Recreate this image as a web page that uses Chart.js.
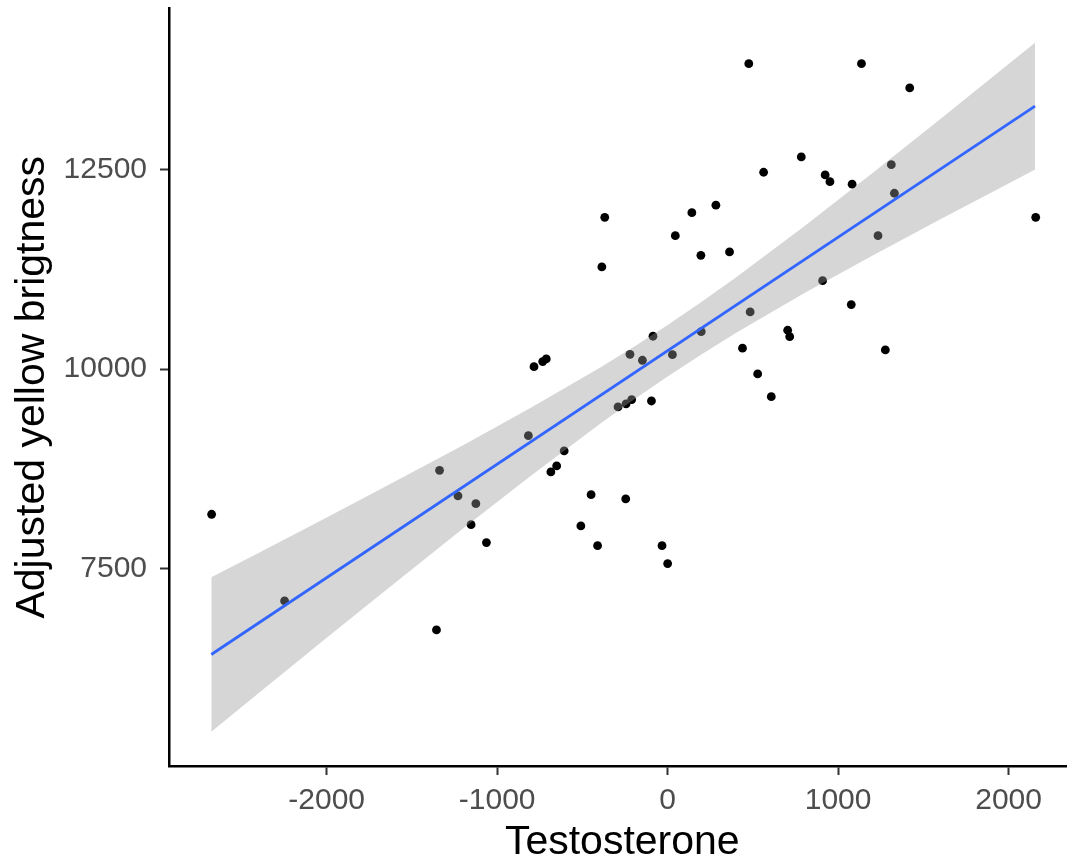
<!DOCTYPE html>
<html><head><meta charset="utf-8">
<script src="https://cdn.jsdelivr.net/npm/chart.js@4/dist/chart.umd.min.js"></script>
<style>
html,body{margin:0;padding:0;overflow:hidden;background:#fff;width:1067px;height:864px}
#wrap{width:1080px;height:864px;position:relative}
canvas{display:block}
</style></head><body>
<div id="wrap"><canvas id="c" width="1080" height="864"></canvas></div>
<script>
// Data
const testosterone = [476, 563, 283, 142, -369, 45, 195, 363, 1137, 1420, 784, 924, 952, 1082, 1312, 1330, 1234, 2159, -2675, -1338, -1230, -386, -784, -733, -712, -86, -221, -148, 28, 197, 484, 439, 528, -291, -244, -211, -95, -817, -607, -651, -685, -449, -246, -1125, 909, 1077, 704, 716, 1277, 608, -2247, -1356, -1153, -1063, -509, -411, -33, 0];
const brightness = [13825, 12465, 12052, 11959, 11901, 11671, 11425, 11467, 13825, 13521, 12657, 12431, 12347, 12315, 12560, 12202, 11671, 11901, 8181, 8732, 8411, 11279, 10030, 10093, 10127, 10411, 10185, 10110, 10180, 10468, 10715, 10261, 9939, 9525, 9563, 9617, 9600, 9166, 8974, 8786, 8711, 8427, 8373, 8314, 11107, 10807, 10486, 10406, 10239, 9654, 7095, 6732, 8051, 7826, 8035, 7788, 7788, 7563];

// Fitted line and confidence band
const fitX = [-2677, 2155];
const fitY = [6425, 13293];
const bandX = [-2677, -2400, -2000, -1600, -1200, -800, -400, -200, 0, 200, 400, 800, 1200, 1600, 2000, 2155];
const bandUpper = [7392, 7697, 8141, 8590, 9046, 9517, 10013, 10276, 10552, 10843, 11147, 11786, 12451, 13132, 13820, 14088];
const bandLower = [5458, 5939, 6633, 7321, 8002, 8668, 9309, 9615, 9907, 10185, 10450, 10948, 11419, 11876, 12325, 12498];

const xTicks = [-2000, -1000, 0, 1000, 2000];
const yTicks = [7500, 10000, 12500];
const xLimits = [-2925, 2393];
const yLimits = [5028, 14516];

const FONT = "'Liberation Sans', Arial, sans-serif";

const pts = testosterone.map((x, i) => ({x: x, y: brightness[i]}));
const fit = fitX.map((x, i) => ({x: x, y: fitY[i]}));
const up = bandX.map((x, i) => ({x: x, y: bandUpper[i]}));
const lo = bandX.map((x, i) => ({x: x, y: bandLower[i]}));

new Chart(document.getElementById('c'), {
  type: 'scatter',
  data: {
    datasets: [
      {type: 'line', data: fit, borderColor: '#3366FF', borderWidth: 2.8, pointRadius: 0, fill: false, tension: 0},
      {type: 'line', data: up, borderColor: 'rgba(0,0,0,0)', borderWidth: 0, pointRadius: 0, fill: '+1', backgroundColor: 'rgba(153,153,153,0.4)', tension: 0},
      {type: 'line', data: lo, borderColor: 'rgba(0,0,0,0)', borderWidth: 0, pointRadius: 0, fill: false, tension: 0},
      {type: 'scatter', data: pts, pointRadius: 4.4, pointHoverRadius: 4.4, backgroundColor: '#000000', borderWidth: 0}
    ]
  },
  options: {
    responsive: false,
    animation: false,
    devicePixelRatio: 1,
    layout: {padding: {top: 8.5, right: 2, bottom: 0, left: 0}},
    plugins: {legend: {display: false}, tooltip: {enabled: false}},
    scales: {
      x: {
        type: 'linear', min: xLimits[0], max: xLimits[1], bounds: 'data',
        afterBuildTicks: s => { s.ticks = xTicks.map(v => ({value: v})); },
        afterFit: s => { s.height = 98; s.paddingLeft = 0; s.paddingRight = 0; s.paddingTop = 0; s.paddingBottom = 0; },
        grid: {drawOnChartArea: false, drawTicks: true, tickLength: 9, tickWidth: 2, tickColor: '#333333'},
        border: {display: true, color: '#000000', width: 2.5},
        ticks: {color: '#4D4D4D', font: {family: FONT, size: 30}, padding: 8, maxRotation: 0, autoSkip: false, callback: v => String(v)},
        title: {display: true, text: 'Testosterone', color: '#000000', font: {family: FONT, size: 41, lineHeight: 1}, padding: {top: 0, bottom: 1}}
      },
      y: {
        type: 'linear', min: yLimits[0], max: yLimits[1], bounds: 'data',
        afterBuildTicks: s => { s.ticks = yTicks.map(v => ({value: v})); },
        afterFit: s => { s.width = 169; s.paddingLeft = 0; s.paddingRight = 0; s.paddingTop = 0; s.paddingBottom = 0; },
        grid: {drawOnChartArea: false, drawTicks: true, tickLength: 9, tickWidth: 2, tickColor: '#333333'},
        border: {display: true, color: '#000000', width: 2.5},
        ticks: {color: '#4D4D4D', font: {family: FONT, size: 30}, padding: 13, autoSkip: false, callback: v => String(v)},
        title: {display: true, text: 'Adjusted yellow brigtness', color: '#000000', font: {family: FONT, size: 41, lineHeight: 1}, padding: {top: 12, bottom: 0}}
      }
    }
  }
});
</script>
</body></html>
